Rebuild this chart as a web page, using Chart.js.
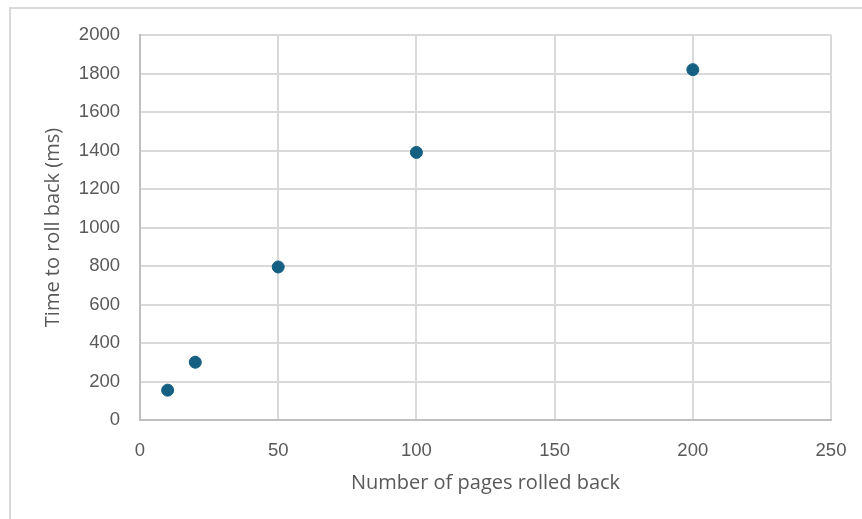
<!DOCTYPE html>
<html>
<head>
<meta charset="utf-8">
<script src="https://cdn.jsdelivr.net/npm/chart.js@4/dist/chart.umd.min.js"></script>
<style>
  html, body { margin: 0; padding: 0; background: #ffffff; }
  #wrap { position: relative; width: 862px; height: 519px; overflow: hidden; }
  #frame {
    position: absolute; left: 9px; top: 7px; width: 900px; height: 560px;
    border-top: 2px solid #d9d9d9; border-left: 2px solid #d9d9d9;
    box-sizing: border-box;
  }
  #chart { position: absolute; left: 0; top: 0; }
</style>
</head>
<body>
<div id="wrap">
  <div id="frame"></div>
  <canvas id="chart" width="862" height="519"></canvas>
</div>
<script>
// Rollback timing measurements
const pagesRolledBack = [10, 20, 50, 100, 200];
const rollbackTimeMs = [155, 300, 795, 1390, 1820];

const xAxisTitle = 'Number of pages rolled back';
const yAxisTitle = 'Time to roll back (ms)';

const xRange = { min: 0, max: 250, step: 50 };
const yRange = { min: 0, max: 2000, step: 200 };

const points = pagesRolledBack.map((x, i) => ({ x: x, y: rollbackTimeMs[i] }));

const tickFont = { family: '"Liberation Sans", Arial, sans-serif', size: 18.5 };
const titleFont = { family: '"Open Sans", "Noto Sans", sans-serif', size: 20 };
const textGray = '#595959';
const gridGray = '#d9d9d9';
const axisGray = '#bfbfbf';
const plain = (v) => String(v);

new Chart(document.getElementById('chart'), {
  type: 'scatter',
  data: {
    datasets: [{
      data: points,
      backgroundColor: '#156082',
      borderColor: '#156082',
      borderWidth: 1,
      pointRadius: 6,
      pointHoverRadius: 6
    }]
  },
  options: {
    responsive: false,
    animation: false,
    layout: { padding: { top: 35, right: 31, bottom: 0, left: 0 } },
    plugins: { legend: { display: false }, tooltip: { enabled: false } },
    scales: {
      x: {
        type: 'linear',
        min: xRange.min,
        max: xRange.max,
        ticks: { stepSize: xRange.step, color: textGray, font: tickFont, padding: 20, maxRotation: 0, callback: plain },
        grid: { color: gridGray, lineWidth: 2, drawTicks: false },
        border: { color: axisGray, width: 2 },
        title: { display: true, text: xAxisTitle, color: textGray, font: titleFont, padding: { top: 0, bottom: 24 } },
        afterFit: (s) => { s.height = 99; s.paddingLeft = 0; s.paddingRight = 0; }
      },
      y: {
        type: 'linear',
        min: yRange.min,
        max: yRange.max,
        ticks: { stepSize: yRange.step, color: textGray, font: tickFont, padding: 20, callback: plain },
        grid: { color: gridGray, lineWidth: 2, drawTicks: false },
        border: { color: axisGray, width: 2 },
        title: { display: true, text: yAxisTitle, color: textGray, font: titleFont, padding: { top: 41, bottom: 0 } },
        afterFit: (s) => { s.width = 140; }
      }
    }
  }
});
</script>
</body>
</html>
